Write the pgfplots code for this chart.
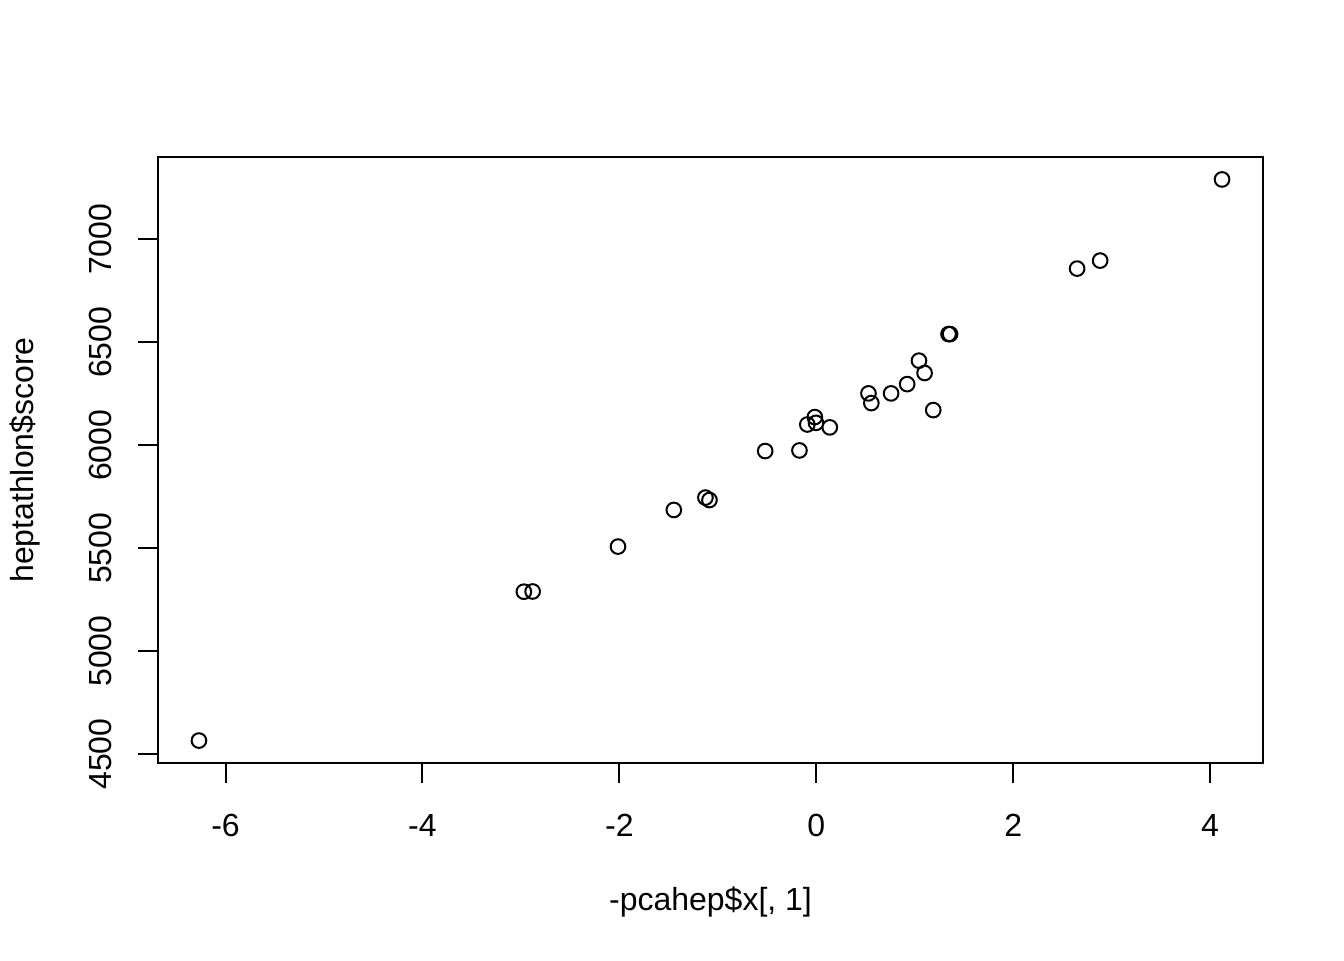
\documentclass[border=0pt]{standalone}
\usepackage{pgfplots}
\pgfplotsset{compat=1.18}
\usepackage{fontspec}
\setmainfont{Liberation Sans}
\begin{document}
\begin{tikzpicture}
\path[use as bounding box] (0,0) rectangle (504pt,360pt);
\begin{axis}[
  at={(59.25pt,73.875pt)}, anchor=south west,
  scale only axis, width=414.375pt, height=227.25pt,
  xmin=-6.686, xmax=4.537, ymin=4457, ymax=7400,
  xtick={-6,-4,-2,0,2,4}, ytick={4500,5000,5500,6000,6500,7000},
  xtick pos=bottom, ytick pos=left,
  tick align=outside, major tick length=7.5pt,
  every tick/.style={black, line width=0.75pt},
  axis line style={line width=0.75pt},
  font=\fontsize{12}{14}\selectfont,
  /pgf/number format/assume math mode=true,
  scaled ticks=false,
  xticklabel style={anchor=center, yshift=-15.75pt},
  yticklabel style={rotate=90, anchor=center, yshift=14.25pt, /pgf/number format/1000 sep={}},
  xlabel={-pcahep\$x[, 1]}, ylabel={heptathlon\$score},
  xlabel style={at={(axis description cs:0.5,0)}, anchor=center, yshift=-52.1pt},
  ylabel style={at={(axis description cs:0,0.5)}, anchor=center, yshift=49.9pt},
]
\addplot[only marks, mark=o, mark size=2.75pt, line width=0.75pt, black] coordinates {
(4.121,7291) (2.883,6897) (2.649,6858) (1.343,6540) (1.359,6540)
(1.043,6411) (1.100,6351) (0.923,6297) (0.530,6252) (0.760,6252)
(0.559,6205) (1.188,6171) (-0.015,6137) (-0.003,6109) (-0.091,6101)
(0.137,6087) (-0.171,5975) (-0.519,5972) (-1.126,5746) (-1.085,5734)
(-1.447,5686) (-2.014,5508) (-2.881,5290) (-2.970,5289) (-6.270,4566)
};
\end{axis}
\end{tikzpicture}
\end{document}
